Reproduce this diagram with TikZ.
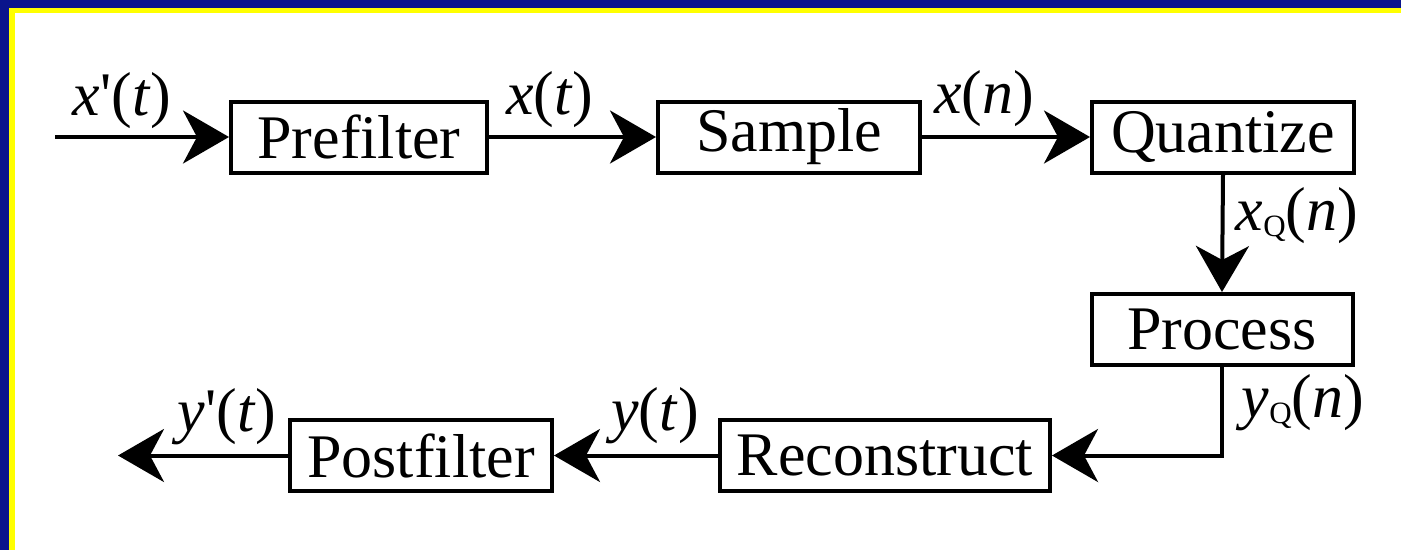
\documentclass[tikz,border=0pt]{standalone}
\usepackage{fontspec}
\setmainfont{Liberation Serif}
\usetikzlibrary{arrows.meta}
\definecolor{frameblue}{RGB}{10,20,140}
\definecolor{frameyellow}{RGB}{255,255,0}
\tikzset{
  blk/.style={draw=black, line width=4pt, minimum height=71pt, inner sep=0pt,
    font=\fontsize{62}{70}\selectfont},
  lbl/.style={anchor=base, inner sep=0pt, font=\fontsize{62}{70}\selectfont},
  arr/.style={line width=4pt, -{Stealth[length=46pt,width=53pt,inset=14pt]}},
  ln/.style={line width=4pt}
}
\newcommand{\subQ}{\raisebox{-6pt}{\fontsize{31}{31}\selectfont Q}}
\newcommand{\prm}{\textquotesingle}
\begin{document}
\begin{tikzpicture}[x=1pt,y=-1pt]
\useasboundingbox (0,0) rectangle (1401,550);
\fill[white] (0,0) rectangle (1401,550);
\fill[frameblue] (0,0) rectangle (1401,7.5);
\fill[frameblue] (0,0) rectangle (9.3,550);
\fill[frameyellow] (9.3,7.5) rectangle (1401,13.3);
\fill[frameyellow] (9.3,7.5) rectangle (15,550);

\node[blk, minimum width=256pt] (pre) at (359,137) {Prefilter};
\node[blk, minimum width=262pt] (sam) at (789,137) {Sample};
\node[blk, minimum width=262pt] (qua) at (1223,137) {Quantize};
\node[blk, minimum width=261pt] (pro) at (1222,329.5) {Process};
\node[blk, minimum width=330pt] (rec) at (885,455.5) {Reconstruct};
\node[blk, minimum width=262pt] (pos) at (421,455.5) {Postfilter};

\coordinate (in) at (55,137);
\coordinate (out) at (118,455.5);

\draw[arr] (in) -- (pre.west);
\draw[arr] (pre.east) -- (sam.west);
\draw[arr] (sam.east) -- (qua.west);
\draw[arr] (qua.south) -- (pro.north);
\draw[arr] (pro.south) |- (rec.east);
\draw[arr] (rec.west) -- (pos.east);
\draw[arr] (pos.west) -- (out);

\node[lbl] (l1) at (122,115) {\textit{x}\prm(\textit{t})};
\node[lbl] (l2) at (550,114) {\textit{x}(\textit{t})};
\node[lbl] (l3) at (984,113) {\textit{x}(\textit{n})};
\node[lbl] (l4) at (1297,230) {\textit{x}\subQ(\textit{n})};
\node[lbl] (l5) at (1303,417) {\textit{y}\subQ(\textit{n})};
\node[lbl] (l6) at (227,431) {\textit{y}\prm(\textit{t})};
\node[lbl] (l7) at (655,430) {\textit{y}(\textit{t})};
\end{tikzpicture}
\end{document}
